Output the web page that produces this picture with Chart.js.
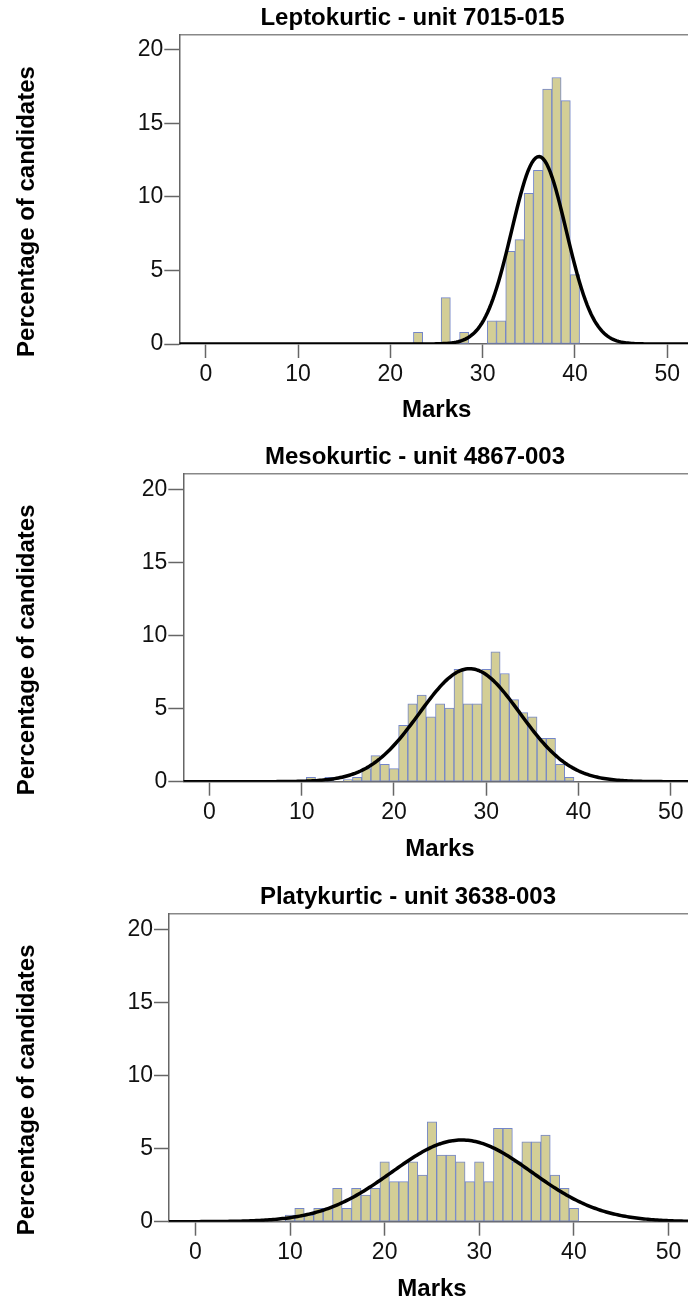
<!DOCTYPE html>
<html>
<head>
<meta charset="utf-8">
<script src="https://cdn.jsdelivr.net/npm/chart.js@4/dist/chart.umd.min.js"></script>
<style>
  body { margin: 0; background: #fff; width: 688px; height: 1302px; overflow: hidden; position: relative; }
  .panel { position: absolute; left: 0; width: 688px; height: 440px; overflow: hidden; }
</style>
</head>
<body>
<div class="panel" style="top:0px"><canvas id="lepto"></canvas></div>
<div class="panel" style="top:439px"><canvas id="meso"></canvas></div>
<div class="panel" style="top:879px"><canvas id="platy"></canvas></div>
<script>
// histogram bins (marks) and percentage of candidates
const leptoTitle = 'Leptokurtic - unit 7015-015';
const leptoMarks = [23, 26, 28, 31, 32, 33, 34, 35, 36, 37, 38, 39, 40];
const leptoPct   = [0.79, 3.15, 0.79, 1.57, 1.57, 6.30, 7.09, 10.24, 11.81, 17.32, 18.11, 16.54, 4.72];

const mesoTitle = 'Mesokurtic - unit 4867-003';
const mesoMarks = [11, 13, 15, 16, 17, 18, 19, 20, 21, 22, 23, 24, 25, 26, 27, 28, 29, 30, 31, 32, 33, 34, 35, 36, 37, 38, 39];
const mesoPct   = [0.3, 0.3, 0.15, 0.3, 0.89, 1.78, 1.18, 0.89, 3.85, 5.33, 5.92, 4.44, 5.33, 5.03, 7.69, 5.33, 5.33, 7.69, 8.88, 7.40, 5.62, 4.73, 4.44, 2.96, 2.96, 1.18, 0.3];

const platyTitle = 'Platykurtic - unit 3638-003';
const platyMarks = [10, 11, 12, 13, 14, 15, 16, 17, 18, 19, 20, 21, 22, 23, 24, 25, 26, 27, 28, 29, 30, 31, 32, 33, 34, 35, 36, 37, 38, 39, 40];
const platyPct   = [0.46, 0.91, 0.46, 0.91, 0.91, 2.28, 0.91, 2.28, 1.82, 2.28, 4.10, 2.74, 2.74, 4.10, 3.19, 6.84, 4.56, 4.56, 4.10, 2.74, 4.10, 2.74, 6.38, 6.38, 4.10, 5.47, 5.47, 5.93, 3.19, 2.28, 0.91];

// fitted normal curve of each unit: mean, sd, height at the mean
const leptoCurve = [36.1, 2.95, 12.74];
const mesoCurve  = [28.2, 5.45, 7.73];
const platyCurve = [28.15, 7.4, 5.59];

const yTicks = [0, 5, 10, 15, 20];
const xTicks = [0, 10, 20, 30, 40, 50];
const xLabel = 'Marks';
const yLabel = 'Percentage of candidates';

const FONT = "'Liberation Sans', Arial, sans-serif";

function normalPoints(c, lo, hi) {
    let pts = [];
    for (let x = lo; x <= hi + 0.001; x += 0.2) {
        pts.push({x: x, y: c[2] * Math.exp(-Math.pow(x - c[0], 2) / (2 * c[1] * c[1]))});
    }
    return pts;
}

// y axis title sits lower than the middle of the plot in the original, so draw it ourselves
const sideTitle = {
    id: 'sideTitle',
    afterDraw(chart, args, opts) {
        const ctx = chart.ctx;
        const area = chart.chartArea;
        ctx.save();
        ctx.translate(opts.x, (area.top + area.bottom) / 2 + opts.shift);
        ctx.rotate(-Math.PI / 2);
        ctx.font = 'bold 24px ' + FONT;
        ctx.fillStyle = '#000';
        ctx.textAlign = 'center';
        ctx.textBaseline = 'middle';
        ctx.fillText(opts.text, 0, 0);
        ctx.restore();
    }
};

function makePanel(id, title, marks, pct, curve, p) {
    const canvas = document.getElementById(id);
    canvas.width = p.width;
    canvas.height = 440;

    new Chart(canvas, {
        type: 'bar',
        data: {
            datasets: [{
                type: 'line',
                data: normalPoints(curve, p.xMin, p.xMax),
                borderColor: '#000',
                borderWidth: 3.5,
                pointRadius: 0,
                tension: 0,
                order: 0,
                xAxisID: 'x',
                yAxisID: 'y'
            },
            {
                type: 'bar',
                data: marks.map((m, i) => ({x: m, y: pct[i]})),
                backgroundColor: '#d3ce96',
                borderColor: '#7486c8',
                borderWidth: 1,
                borderSkipped: false,
                categoryPercentage: 1,
                barPercentage: 1,
                order: 1,
                xAxisID: 'x',
                yAxisID: 'y'
            }]
        },
        plugins: [sideTitle],
        options: {
            responsive: false,
            animation: false,
            devicePixelRatio: 1,
            layout: { padding: 0 },
            plugins: {
                legend: { display: false },
                tooltip: { enabled: false },
                title: {
                    display: true,
                    text: title,
                    color: '#000',
                    font: { family: FONT, size: 24, weight: 'bold' },
                    padding: { top: 4, bottom: 2.2 }
                },
                sideTitle: { text: yLabel, x: 27, shift: 22 }
            },
            scales: {
                x: {
                    type: 'linear',
                    position: 'bottom',
                    min: p.xMin,
                    max: p.xMax,
                    offset: false,
                    afterBuildTicks: s => { s.ticks = xTicks.map(v => ({value: v})); },
                    ticks: { color: '#111', font: { family: FONT, size: 23 }, padding: 3, maxRotation: 0 },
                    grid: { offset: false, drawOnChartArea: false, tickLength: 14, tickColor: '#666', tickWidth: 1.5 },
                    border: { color: '#666', width: 1.5 },
                    title: {
                        display: true, text: xLabel, color: '#000',
                        font: { family: FONT, size: 24, weight: 'bold' },
                        padding: { top: 0, bottom: 15.6 }
                    },
                    afterFit: s => { s.height = 440 - p.baseline; }
                },
                xTop: {
                    type: 'linear',
                    position: 'top',
                    min: p.xMin,
                    max: p.xMax,
                    ticks: { display: false },
                    grid: { display: false },
                    border: { color: '#888', width: 1.5 },
                    afterFit: s => { s.height = 0; }
                },
                y: {
                    min: 0,
                    max: p.yMax,
                    afterBuildTicks: s => { s.ticks = yTicks.map(v => ({value: v})); },
                    ticks: { color: '#111', font: { family: FONT, size: 23 }, padding: 1 },
                    grid: { drawOnChartArea: false, tickLength: 15, tickColor: '#666', tickWidth: 1.5 },
                    border: { color: '#666', width: 1.5 },
                    afterFit: s => { s.width = p.axisLeft; }
                },
                yRight: {
                    position: 'right',
                    display: true,
                    ticks: { display: false },
                    grid: { display: false },
                    border: { display: false },
                    afterFit: s => { s.width = p.width - p.right; }
                }
            }
        }
    });
}

makePanel('lepto', leptoTitle, leptoMarks, leptoPct, leptoCurve,
    { width: 825, axisLeft: 179.3, right: 694, xMin: -2.87, xMax: 52.9, yMax: 21.0, baseline: 344 });
makePanel('meso', mesoTitle, mesoMarks, mesoPct, mesoCurve,
    { width: 830, axisLeft: 183.3, right: 696.7, xMin: -2.83, xMax: 52.8, yMax: 21.05, baseline: 342.7 });
makePanel('platy', platyTitle, platyMarks, platyPct, platyCurve,
    { width: 816, axisLeft: 169, right: 695, xMin: -2.79, xMax: 52.8, yMax: 21.05, baseline: 342.7 });
</script>
</body>
</html>
